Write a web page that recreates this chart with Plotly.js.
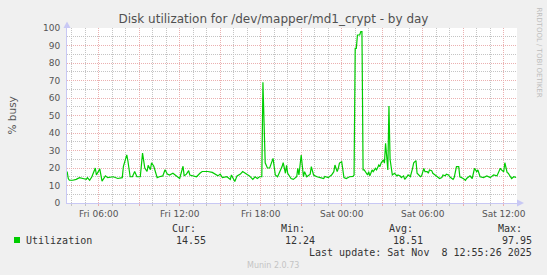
<!DOCTYPE html>
<html><head><meta charset="utf-8">
<script src="https://cdn.plot.ly/plotly-3.0.1.min.js"></script>
<style>html,body{margin:0;padding:0;background:#f0f0f0;}#chart{width:547px;height:275px;}</style>
</head><body><div id="chart"></div>
<script>
// ---- data ----
const friDate = '2025-11-07';
const satDate = '2025-11-08';
const friTimes = ['03:40','03:45','03:50','04:05','04:20','04:35','04:50','05:05','05:10','05:20','05:30','05:45','05:50','06:05','06:15','06:30','06:40','07:05','07:25','07:45','07:50','08:05','08:10','08:20','08:30','08:40','08:50','09:05','09:15','09:25','09:35','09:40','09:50','09:55','10:05','10:10','10:20','10:30','10:45','10:55','11:05','11:15','11:30','11:50','12:00','12:15','12:20','12:30','12:40','12:45','13:00','13:15','13:30','13:40','13:50','14:05','14:25','14:35','14:50','15:00','15:10','15:30','15:45','15:50','16:00','16:05','16:15','16:30','16:40','17:00','17:10','17:25','17:35','17:45','17:55','18:05','18:10','18:20','18:30','18:40','18:55','19:05','19:15','19:35','19:40','19:50','19:55','20:00','20:15','20:25','20:40','20:45','20:50','21:00','21:10','21:15','21:25','21:40','21:45','21:55','22:10','22:25','22:40','22:45','23:00','23:15','23:25','23:30','23:40','23:45','23:50'];
const friUtil = [18,14,13,13,13.5,14.5,14,13.5,14.5,13,15,20,16,19.5,12.5,15.5,14.5,15,14,14.5,21,27.5,24,15,15,18,15,15,28.5,20,18,21.5,19,23,21,19,14.5,15,15.5,19,16.5,16,17,15,14,21,15.5,16.5,18.5,16,15.5,15,17,18,18,18,17.5,16.5,15.5,16.5,14.5,15,13.5,16,14,12.24,15.5,16.5,18,16.5,15.5,13.5,15,14,15,15,69,23,20,20,25.5,16,15,20.8,23,17,21.5,17,14,13.5,15,19.8,16,27.4,15,17.9,15,16.5,20.8,16,15,14.5,14,15.2,14.5,16,17.9,21.7,17.9,19.8,22.8];
const satTimes = ['00:00','00:05','00:10','00:20','00:35','00:50','00:55','01:00','01:05','01:10','01:20','01:25','01:30','01:35','01:40','01:55','02:00','02:05','02:15','02:20','02:30','02:35','02:45','02:50','02:55','03:05','03:10','03:15','03:20','03:25','03:30','03:35','03:45','03:55','04:05','04:10','04:20','04:25','04:35','04:40','04:50','04:55','05:05','05:10','05:15','05:20','05:30','05:35','05:40','05:50','05:55','06:05','06:10','06:20','06:25','06:30','06:40','06:45','06:55','07:00','07:10','07:15','07:25','07:30','07:40','07:45','07:55','08:00','08:15','08:20','08:30','08:40','08:45','08:55','09:00','09:10','09:15','09:25','09:30','09:40','09:45','09:50','10:00','10:05','10:15','10:30','10:45','11:00','11:15','11:30','11:45','11:50','12:00','12:05','12:15','12:20','12:30','12:35','12:45','12:55'];
const satUtil = [23.6,17.9,14.5,14,15,15.2,16,88.4,88.4,96,96,97.95,97.95,18.9,18.9,16,17.9,15.5,18.9,17.9,19.8,18.9,21.7,20.8,22.8,24.6,22.8,34.1,28.4,18.9,55.4,25,16,17,15.5,16,15.5,14.5,15.5,13.5,15,16,15,17,19.8,23,24.2,17,16.5,15,15.5,19.8,17.9,17.9,17,18.9,18.5,17,16,15.5,14,14,14.5,16,15.5,16.5,16,15,13.5,14.5,20.8,20.8,15,14.5,14,13,14,15,15.5,14,17.9,19.8,17.9,18.9,15,14.5,15.5,14.5,16,15.5,19.8,18.9,17.9,23,17.5,17,15,14,15,14.55];
const xRange = ['2025-11-07 03:39:20', '2025-11-08 12:59:00'];
const tickTimes = ['2025-11-07 06:00','2025-11-07 09:00','2025-11-07 12:00','2025-11-07 15:00','2025-11-07 18:00','2025-11-07 21:00','2025-11-08 00:00','2025-11-08 03:00','2025-11-08 06:00','2025-11-08 09:00','2025-11-08 12:00'];
const tickLabels = ['Fri 06:00','','Fri 12:00','','Fri 18:00','','Sat 00:00','','Sat 06:00','','Sat 12:00'];
const yTicks = [0,10,20,30,40,50,60,70,80,90,100];
const seriesName = 'Utilization';
const statLabels = ['Cur:','Min:','Avg:','Max:'];
const statValues = ['14.55','12.24','18.51','97.95'];
const titleText = 'Disk utilization for /dev/mapper/md1_crypt - by day';
const yTitle = '% busy';
const lastUpdate = 'Last update: Sat Nov\u00a0\u00a08 12:55:26 2025';
const footer = 'Munin 2.0.73';
const sideText = 'RRDTOOL / TOBI OETIKER';

// ---- build ----
const xs = friTimes.map(t => friDate + ' ' + t).concat(satTimes.map(t => satDate + ' ' + t));
const ys = friUtil.concat(satUtil);

const L = 67, R = 517, T = 28, B = 203, W = R - L, H = B - T;
const px = p => (p - L) / W;
const py = p => (B - p) / H;
const RED = '#ebb0b0', GREY = '#c4c4c4', AXIS = '#c8c8f4';
const mono = {family: 'DejaVu Sans Mono', size: 10, color: '#333'};

function ann(text, x, y, xanchor, font, extra) {
  return Object.assign({text: text, x: px(x), y: py(y), xref: 'paper', yref: 'paper',
    xanchor: xanchor, yanchor: 'middle', showarrow: false, font: font, borderpad: 0}, extra || {});
}

const statX = [171, 280, 388, 497];
const annotations = [
  ann(yTitle, 11, 115.5, 'center', {family: 'DejaVu Sans', size: 10.5, color: '#555'}, {textangle: -90}),
  ann(sideText, 538.5, 52, 'center', {family: 'DejaVu Sans', size: 7, color: '#bdbdbd'}, {textangle: 90}),
  ann(seriesName, 25, 240, 'left', mono),
  ann(lastUpdate, 533, 253, 'right', mono),
  ann(footer, 273, 265, 'center', {family: 'DejaVu Sans', size: 8, color: '#c4c4c4'})
];
statLabels.forEach((s, i) => annotations.push(ann(s, statX[i], 228, 'left', mono)));
statValues.forEach((s, i) => annotations.push(ann(s, statX[i] + 36, 240, 'right', mono)));

const shapes = [
  {type: 'path', xref: 'paper', yref: 'paper', path: `M ${px(67)} ${py(21.5)} L ${px(63.5)} ${py(28)} L ${px(70.5)} ${py(28)} Z`, fillcolor: AXIS, line: {width: 0}},
  {type: 'path', xref: 'paper', yref: 'paper', path: `M ${px(524)} ${py(203)} L ${px(517)} ${py(199.5)} L ${px(517)} ${py(206.5)} Z`, fillcolor: AXIS, line: {width: 0}},
  {type: 'rect', xref: 'paper', yref: 'paper', x0: px(14), x1: px(20), y0: py(243), y1: py(237), fillcolor: '#00cc00', line: {width: 0}}
];

const trace = {x: xs, y: ys, type: 'scatter', mode: 'lines', name: seriesName,
  line: {color: '#00cc00', width: 1.2}, hoverinfo: 'skip'};

const layout = {
  width: 547, height: 275,
  margin: {l: L, r: 547 - R, t: T, b: 275 - B, pad: 0},
  paper_bgcolor: '#f0f0f0', plot_bgcolor: '#ffffff',
  showlegend: false,
  title: {text: titleText, x: 0.5, xref: 'container', xanchor: 'center', y: 1 - 18.5 / 275, yref: 'container', yanchor: 'middle',
    font: {family: 'DejaVu Sans', size: 12, color: '#505050'}},
  xaxis: {type: 'date', range: xRange, tickmode: 'array', tickvals: tickTimes, ticktext: tickLabels,
    showgrid: true, gridcolor: RED, griddash: '1px,1px', gridwidth: 1,
    ticks: 'outside', ticklen: 2, tickcolor: RED, tickwidth: 1,
    tickfont: {family: 'DejaVu Sans', size: 9, color: '#555'},
    showline: true, linecolor: AXIS, linewidth: 1, zeroline: false, fixedrange: true,
    minor: {dtick: 3600000, tick0: '2025-11-07 00:00', showgrid: true, gridcolor: GREY, griddash: '1px,1px', gridwidth: 1,
      ticks: 'outside', ticklen: 2, tickcolor: GREY}},
  yaxis: {range: [0, 100], tickmode: 'array', tickvals: yTicks,
    showgrid: true, gridcolor: RED, griddash: '1px,1px', gridwidth: 1,
    ticks: '', ticklabelstandoff: 4,
    tickfont: {family: 'DejaVu Sans', size: 9, color: '#555'},
    showline: true, linecolor: AXIS, linewidth: 1, zeroline: false, fixedrange: true,
    minor: {dtick: 5, tick0: 0, showgrid: true, gridcolor: GREY, griddash: '1px,1px', gridwidth: 1}},
  annotations: annotations,
  shapes: shapes
};

Plotly.newPlot('chart', [trace], layout, {displayModeBar: false, staticPlot: true});
</script>
</body></html>
